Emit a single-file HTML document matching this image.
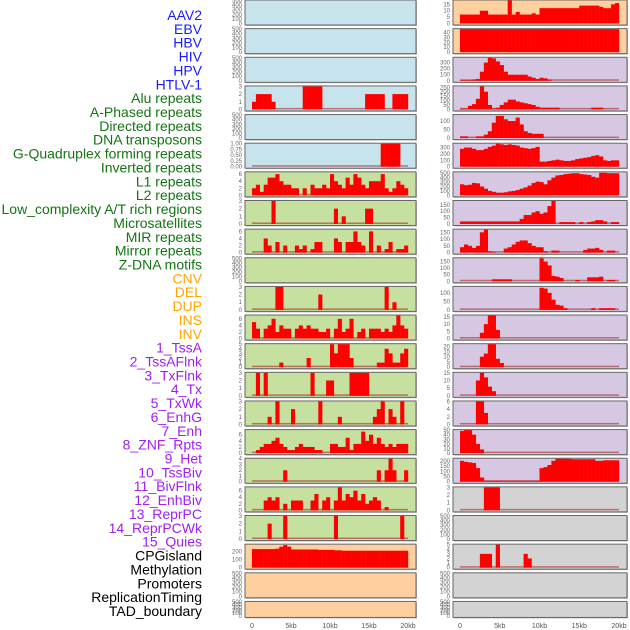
<!DOCTYPE html>
<html><head><meta charset="utf-8"><style>
html,body{margin:0;padding:0;background:#fff}
svg{display:block}
text{font-family:"Liberation Sans",sans-serif}
</style></head><body>
<svg id="chart" width="630" height="630" viewBox="0 0 630 630" xmlns="http://www.w3.org/2000/svg"></svg>
<script>
const trackLabels = ["AAV2","EBV","HBV","HIV","HPV","HTLV-1","Alu repeats","A-Phased repeats","Directed repeats","DNA transposons","G-Quadruplex forming repeats","Inverted repeats","L1 repeats","L2 repeats","Low_complexity A/T rich regions","Microsatellites","MIR repeats","Mirror repeats","Z-DNA motifs","CNV","DEL","DUP","INS","INV","1_TssA","2_TssAFlnk","3_TxFlnk","4_Tx","5_TxWk","6_EnhG","7_Enh","8_ZNF_Rpts","9_Het","10_TssBiv","11_BivFlnk","12_EnhBiv","13_ReprPC","14_ReprPCWk","15_Quies","CPGisland","Methylation","Promoters","ReplicationTiming","TAD_boundary"];
const labelGroups = [0,0,0,0,0,0,1,1,1,1,1,1,1,1,1,1,1,1,1,2,2,2,2,2,3,3,3,3,3,3,3,3,3,3,3,3,3,3,3,4,4,4,4,4];
const xTickLabels = ["0","5kb","10kb","15kb","20kb"];
const xTickValues = [0,5,10,15,20];
const ticksEmpty = [0,100,200,300,400,500];
const Z = new Array(40).fill(0);
function sp(m){const a=new Array(40).fill(0);for(const k in m)a[k]=m[k];return a;}
// left column values (40 bins of 0.5kb)
const L4 = [1,2,2,2,2,1,0,0,0,0,0,0,0,3,3,3,3,3,0,0,0,0,0,0,0,0,0,0,0,2,2,2,2,2,0,0,2,2,2,2];
const L6 = sp({33:1,34:1,35:1,36:1,37:1});
const L7 = [2,3,1,3,5,5,6,4,3,3,2,2,0,2,0,3,2,2,3,2,6,4,3,2,5,3,6,5,3,2,4,4,4,6,2,1,2,4,3,2];
const L8 = sp({5:3,21:2,23:1,29:2,30:2});
const L9 = [0,0,0,4,2,0,3,0,2,0,0,2,1,2,0,1,3,3,0,0,0,4,3,0,3,3,6,3,2,0,6,0,2,0,1,3,0,1,1,2];
const L11 = sp({6:3,7:3,17:2,34:3,36:1});
const L12 = [5,3,0,3,4,6,2,4,3,3,0,3,4,3,4,3,3,2,2,3,0,3,6,2,3,6,0,2,3,0,3,3,3,2,3,2,4,7,4,3];
const L13 = [0,0,0,0,0,0,0,1,0,0,0,0,0,0,2,0,0,0,0,0,5,3,5,5,5,2,0,0,0,0,0,0,1,1,4,3,1,1,3,4];
const L14 = sp({1:3,3:3,15:3,19:2,20:2,25:3,26:3,27:3,28:3,29:3});
const L15 = sp({4:1,6:3,10:2,17:3,22:1,31:1,32:2,33:3,35:2,36:1,38:3});
const L16 = [0,1,2,3,3,4,5,3,2,1,1,2,3,2,2,2,1,1,0,0,3,3,2,2,5,1,3,3,7,4,6,3,5,3,2,3,2,3,3,3];
const L17 = sp({8:2,32:2,34:2,35:4,36:2,39:2});
const L18 = [0,0,0,3,4,3,4,0,2,0,3,3,3,0,0,3,5,0,3,4,0,3,7,3,5,4,6,3,5,2,3,4,3,0,1,0,0,0,0,0];
const L19 = sp({4:2,8:3,21:3,38:3});
const L20 = [230,230,230,230,230,230,235,260,280,260,225,225,225,225,225,225,225,220,220,220,220,215,215,210,210,210,210,210,210,210,210,210,210,210,210,210,210,210,210,210];
// right column values
const R1 = [7,7,7,7,7,10,10,7,7,7,7,7,18,7,9,7,7,7,8,7,12,12,12,12,12,12,12,12,12,12,14,14,14,14,14,13,12,12,15,16];
const R2 = new Array(40).fill(47);
const R3 = [10,10,10,20,30,150,300,380,370,320,260,150,100,100,100,100,100,70,50,30,50,40,20,0,0,0,0,0,0,0,0,0,0,0,0,0,0,0,0,0];
const R4 = [10,10,40,60,120,260,200,50,10,20,50,80,110,110,90,80,70,60,50,30,20,20,20,20,20,0,0,0,0,0,0,0,0,20,20,20,0,0,0,0];
const R5 = [10,10,0,0,10,10,20,40,90,130,130,110,100,100,120,80,40,30,25,25,25,0,0,0,0,0,0,0,0,0,0,0,0,0,0,0,0,0,0,0];
const R6 = [280,300,300,280,260,260,280,310,330,360,350,340,350,340,330,300,290,280,290,310,80,80,90,100,110,100,90,90,100,120,130,140,150,170,180,160,100,90,100,100];
const R7 = [250,230,240,280,270,200,150,100,80,60,60,70,90,100,120,150,180,220,280,310,300,250,340,400,450,460,480,490,500,500,480,470,460,420,400,510,510,500,500,500];
const R8 = [20,20,20,20,20,20,20,20,20,20,20,20,20,20,20,40,70,70,90,100,80,90,140,180,0,15,15,15,15,0,15,0,15,20,30,30,20,0,15,15];
const R9 = [40,60,50,35,50,150,170,10,5,0,0,30,40,60,80,90,90,70,50,40,40,10,0,15,15,0,0,0,0,0,0,20,30,30,35,20,0,15,15,0];
const R10 = [0,0,0,0,0,0,0,0,15,15,15,15,15,0,0,0,0,0,0,0,175,150,120,40,35,25,0,0,0,10,0,0,30,30,30,35,0,10,10,0];
const R11 = sp({20:130,21:125,22:100,23:60,24:30,25:25,26:10,33:10,35:10,36:10,37:10,38:10});
const R12 = sp({5:4,6:10,7:16,8:16,9:6});
const R13 = sp({5:10,6:13,7:22,8:22,9:8,10:4});
const R14 = sp({4:10,5:15,6:12,7:6,8:3});
const R15 = sp({4:6,5:6,6:3});
const R16 = sp({0:48,1:50,2:50,3:40,4:20,5:8});
const R17 = [200,190,185,180,130,40,10,10,10,10,10,10,10,10,10,10,10,10,10,10,130,140,160,200,220,220,220,220,215,215,215,215,215,215,200,200,205,205,205,205];
const R18 = sp({6:3,7:3,8:3,9:3});
const R20 = sp({5:3,6:3,7:3,9:5,16:3,17:2});

const BLUE="#c7e4ec",GREEN="#c6e0a0",PEACH="#ffd09f",LAV="#d6c7e3",GRAY="#d3d3d3";
const leftCol = [
 [BLUE,null,ticksEmpty,500],[BLUE,null,ticksEmpty,500],[BLUE,null,ticksEmpty,500],
 [BLUE,L4,[0,1,2,3],3],[BLUE,null,ticksEmpty,500],[BLUE,L6,[0,0.25,0.5,0.75,1],1],
 [GREEN,L7,[0,2,4,6],6.5],[GREEN,L8,[0,1,2,3],3],[GREEN,L9,[0,2,4,6],6.5],
 [GREEN,null,ticksEmpty,500],[GREEN,L11,[0,1,2,3],3],[GREEN,L12,[0,2,4,6],7],
 [GREEN,L13,[0,1,2,3,4,5],5],[GREEN,L14,[0,1,2,3],3],[GREEN,L15,[0,1,2,3],3],
 [GREEN,L16,[0,2,4,6],7.5],[GREEN,L17,[0,1,2,3,4],4],[GREEN,L18,[0,2,4,6],7],
 [GREEN,L19,[0,1,2,3],3],[PEACH,L20,[0,100,200],285],[PEACH,null,ticksEmpty,500],[PEACH,null,ticksEmpty,500]];
const rightCol = [
 [PEACH,R1,[0,5,10,15],18],[PEACH,R2,[0,10,20,30,40],47],[LAV,R3,[0,100,200,300],380],
 [LAV,R4,[0,50,100,150,200,250],260],[LAV,R5,[0,50,100],135],[LAV,R6,[0,100,200,300],360],
 [LAV,R7,[0,100,200,300,400,500],520],[LAV,R8,[0,50,100,150],180],[LAV,R9,[0,50,100,150],170],
 [LAV,R10,[0,50,100,150],175],[LAV,R11,[0,50,100],135],[LAV,R12,[0,5,10,15],16],
 [LAV,R13,[0,5,10,15,20],22],[LAV,R14,[0,5,10,15],15],[LAV,R15,[0,2,4,6],6],
 [LAV,R16,[0,10,20,30,40,50],50],[LAV,R17,[0,50,100,150,200],220],[GRAY,R18,[0,1,2,3],3],
 [GRAY,null,ticksEmpty,500],[GRAY,R20,[0,1,2,3,4,5],5],[GRAY,null,ticksEmpty,500],[GRAY,null,ticksEmpty,500]];

const svg=document.getElementById('chart');
const NS="http://www.w3.org/2000/svg";
function mk(tag,attrs,parent){const e=document.createElementNS(NS,tag);for(const k in attrs)e.setAttribute(k,attrs[k]);(parent||svg).appendChild(e);return e;}
const labelColors=["#1a1aff","#137513","#ffa500","#a020f0","#000000"];
trackLabels.forEach((t,i)=>{
  const e=mk('text',{x:202,y:15+i*13.86,'text-anchor':'end','dominant-baseline':'central','font-size':14,fill:labelColors[labelGroups[i]]});
  e.textContent=t;
  
  
});
const cols=[{x0:245,x1:416,z:252,t:408,data:leftCol,name:'left'},{x0:453,x1:627,z:460,t:619,data:rightCol,name:'right'}];
cols.forEach(c=>{
  const xs=v=>c.z+(c.t-c.z)*v/20;
  c.data.forEach((p,r)=>{
    const top=r*28.64, h=(r===21)?16:25;
    const g=mk('g',{});
    
    
    mk('rect',{x:c.x0+1,y:top+1,width:c.x1-c.x0,height:h,fill:'#bbb'},g);
    mk('rect',{x:c.x0,y:top,width:c.x1-c.x0,height:h,fill:p[0],stroke:'#666','stroke-width':1},g);
    const yb=top+h-1.5, yt=top+0.5;
    const ys=v=>yb-(yb-yt)*v/p[3];
    if(p[1]){
      const bl=mk('rect',{x:xs(0),y:yb-1.5,width:xs(20)-xs(0),height:1.5,fill:'rgba(170,40,40,0.6)'},g);
      
      
      p[1].forEach((v,i)=>{
        if(v<=0)return;
        const b=mk('rect',{x:xs(i*0.5),y:ys(v),width:xs(0.5)-xs(0)+0.2,height:yb-ys(v),fill:'#ff0000'},g);
        
        
      });
    }
    p[2].forEach(tv=>{
      const lab=(p[3]===1)?tv.toFixed(2):String(tv);
      const e=mk('text',{x:c.x0-3,y:ys(tv)+2,'text-anchor':'end','font-size':6,fill:'#666'},g);
      e.textContent=lab;
      
      
    });
  });
  xTickValues.forEach((v,i)=>{
    const e=mk('text',{x:xs(v),y:628,'text-anchor':'middle','font-size':7,fill:'#555'});
    e.textContent=xTickLabels[i];
    
    
  });
});
</script>
</body></html>
